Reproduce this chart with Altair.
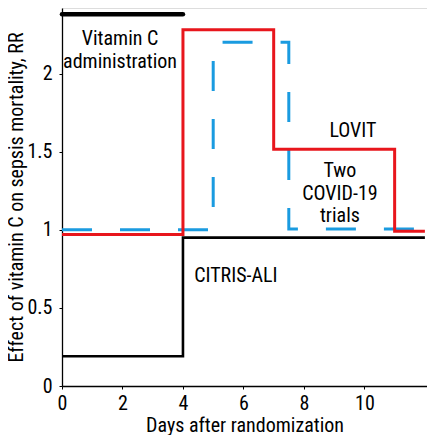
import altair as alt
import pandas as pd

# Step series (step-after interpolation)
vitc_x = [0, 4]
vitc_y = [2.38, 2.38]

lovit_x = [0, 4, 7, 11, 12]
lovit_y = [0.97, 2.28, 1.515, 0.99, 0.99]

covid_x = [0, 5, 7.5, 12]
covid_y = [1.0, 2.2, 1.005, 1.005]

citris_x = [0, 4, 12]
citris_y = [0.19, 0.95, 0.95]

label_text = ["Vitamin C", "administration", "LOVIT", "Two", "COVID-19", "trials", "CITRIS-ALI"]
label_x = [1.92, 1.92, 9.62, 9.19, 9.19, 9.19, 5.75]
label_y = [2.183, 2.036, 1.594, 1.338, 1.191, 1.05, 0.668]

x_ticks = [0, 2, 4, 6, 8, 10]
y_ticks = [0, 0.5, 1, 1.5, 2]

FONT = "Liberation Sans Narrow, Roboto Condensed, DejaVu Sans Condensed, sans-serif"

xs = alt.Scale(domain=[0, 12.07], nice=False, zero=False)
ys = alt.Scale(domain=[0, 2.42], nice=False, zero=False)

xaxis = alt.Axis(values=x_ticks, title="Days after randomization", grid=False,
                 domainColor="black", domainWidth=1.3, tickColor="black", tickSize=3,
                 labelFont=FONT, labelFontSize=20, labelColor="black",
                 labelBaseline="alphabetic", labelPadding=20,
                 titleFont=FONT, titleFontSize=20, titleFontWeight="normal", titleColor="black",
                 titleBaseline="alphabetic", titleY=45, labelFlush=False)
yaxis = alt.Axis(values=y_ticks, format="~g", title="Effect of vitamin C on sepsis mortality, RR",
                 grid=False, domainColor="black", domainWidth=1.3, tickColor="black", tickSize=3,
                 labelFont=FONT, labelFontSize=20, labelColor="black", labelPadding=7,
                 titleFont=FONT, titleFontSize=20, titleFontWeight="normal", titleColor="black",
                 titleBaseline="alphabetic", titleX=-40, titleAngle=270, labelFlush=False)


def step(xv, yv, **mark):
    df = pd.DataFrame({"x": xv, "y": yv})
    return alt.Chart(df).mark_line(interpolate="step-after", clip=False, **mark).encode(
        x=alt.X("x:Q", scale=xs, axis=xaxis),
        y=alt.Y("y:Q", scale=ys, axis=yaxis),
    )


vitc = step(vitc_x, vitc_y, color="black", strokeWidth=4.5, strokeCap="round")
covid = step(covid_x, covid_y, color="#1a9be0", strokeWidth=3, strokeDash=[30, 28])
lovit = step(lovit_x, lovit_y, color="#e8161c", strokeWidth=3)
citris = step(citris_x, citris_y, color="black", strokeWidth=2.6)

labels = alt.Chart(pd.DataFrame({"t": label_text, "x": label_x, "y": label_y})).mark_text(
    font=FONT, fontSize=20, color="black", align="center", baseline="alphabetic"
).encode(
    x=alt.X("x:Q", scale=xs, axis=xaxis),
    y=alt.Y("y:Q", scale=ys, axis=yaxis),
    text="t:N",
)

chart = alt.layer(vitc, covid, lovit, citris, labels).properties(
    width=365, height=378,
    padding={"left": 54, "top": 0, "right": 0, "bottom": 49},
    autosize=alt.AutoSizeParams(type="none"),
).configure_view(stroke=None).configure(background="white")

chart.save("out.html", embed_options={"renderer": "svg", "actions": False})
